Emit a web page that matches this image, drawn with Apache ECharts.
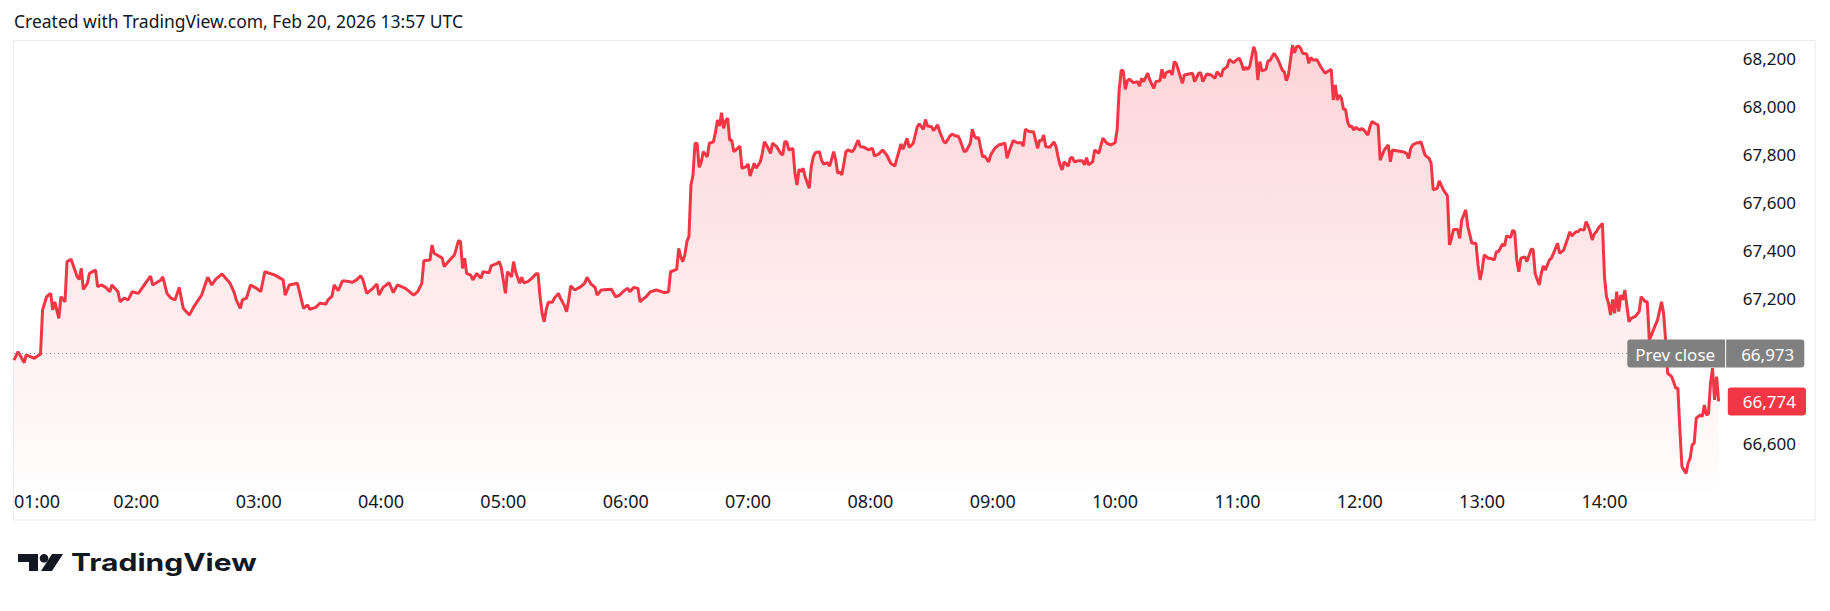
<!DOCTYPE html>
<html>
<head>
<meta charset="utf-8">
<script src="https://cdn.jsdelivr.net/npm/echarts/dist/echarts.min.js"></script>
<style>
  html, body { margin: 0; padding: 0; background: #ffffff; }
  #chart { width: 1830px; height: 611px; }
</style>
</head>
<body>
<div id="chart"></div>
<script>
// ---- data ----
const headerText = 'Created with TradingView.com, Feb 20, 2026 13:57 UTC';
const brandText = 'TradingView';
const prevCloseLabel = 'Prev close';
const prevClose = 66973;

const times = [
  "01:00","01:02","01:05","01:06","01:10","01:13","01:14","01:16","01:18","01:19","01:20","01:22","01:23","01:25","01:26","01:28","01:31","01:32","01:33","01:34","01:36","01:37","01:40","01:41","01:43","01:45","01:47","01:48","01:51","01:52","01:54","01:56","01:58",
  "02:01","02:05","02:07","02:08","02:12","02:13","02:15","02:17","02:19","02:21","02:23","02:26","02:28","02:32","02:35","02:37","02:39","02:42","02:46","02:48","02:49","02:51","02:52","02:54","02:56","02:59",
  "03:01","03:03","03:08","03:12","03:13","03:15","03:19","03:22","03:24","03:25","03:28","03:30","03:33","03:34","03:36","03:37","03:39","03:41","03:43","03:46","03:48","03:50","03:51","03:53","03:56","03:58","03:59",
  "04:01","04:04","04:06","04:08","04:12","04:16","04:18","04:20","04:21","04:24","04:25","04:26","04:29","04:30","04:31","04:33","04:36","04:38","04:39","04:40","04:41","04:42","04:44","04:45","04:47","04:49","04:50","04:53","04:54","04:57","04:58","04:59",
  "05:01","05:02","05:04","05:05","05:06","05:08","05:09","05:10","05:12","05:14","05:16","05:17","05:18","05:19","05:20","05:21","05:22","05:24","05:25","05:27","05:28","05:30","05:31","05:32","05:33","05:35","05:38","05:40","05:41","05:43","05:45","05:46","05:48","05:53","05:55","05:57","05:59",
  "06:01","06:02","06:04","06:06","06:07","06:09","06:10","06:12","06:15","06:19","06:21","06:22","06:25","06:26","06:27","06:28","06:29","06:30","06:31","06:32","06:33","06:34","06:35","06:36","06:37","06:38","06:40","06:41","06:43","06:44","06:45","06:46","06:47","06:48","06:49","06:50","06:51","06:52","06:53","06:54","06:56","06:57","06:59",
  "07:00","07:01","07:03","07:04","07:06","07:07","07:08","07:09","07:11","07:12","07:14","07:16","07:17","07:18","07:19","07:20","07:22","07:23","07:24","07:25","07:26","07:27","07:28","07:30","07:31","07:32","07:33","07:35","07:36","07:37","07:39","07:40","07:42","07:43","07:44","07:45","07:46","07:48","07:49","07:51","07:52","07:54","07:55","07:57","07:59",
  "08:01","08:02","08:04","08:06","08:08","08:10","08:12","08:13","08:15","08:16","08:18","08:19","08:21","08:23","08:24","08:26","08:27","08:28","08:30","08:31","08:33","08:34","08:36","08:37","08:39","08:40","08:42","08:43","08:44","08:46","08:47","08:49","08:50","08:51","08:52","08:53","08:55","08:56","08:58","08:59",
  "09:01","09:03","09:06","09:07","09:08","09:10","09:12","09:14","09:15","09:16","09:18","09:20","09:21","09:22","09:23","09:24","09:25","09:26","09:28","09:30","09:31","09:32","09:33","09:34","09:35","09:37","09:38","09:39","09:40","09:42","09:44","09:45","09:46","09:47","09:49","09:50","09:52","09:54","09:56","09:58",
  "10:00","10:01","10:02","10:03","10:04","10:05","10:06","10:07","10:09","10:11","10:12","10:13","10:14","10:16","10:17","10:19","10:20","10:22","10:23","10:24","10:25","10:27","10:28","10:29","10:30","10:32","10:33","10:34","10:36","10:38","10:39","10:41","10:42","10:43","10:45","10:47","10:49","10:50","10:52","10:53","10:55","10:56","10:58",
  "11:00","11:01","11:02","11:03","11:04","11:05","11:06","11:08","11:09","11:10","11:11","11:12","11:14","11:15","11:16","11:17","11:18","11:20","11:22","11:23","11:24","11:25","11:27","11:28","11:29","11:30","11:31","11:32","11:34","11:35","11:36","11:37","11:39","11:40","11:41","11:43","11:44","11:46","11:47","11:48","11:49","11:50","11:51","11:52","11:53","11:54","11:55","11:56","11:57","11:58",
  "12:00","12:01","12:02","12:04","12:05","12:06","12:08","12:09","12:10","12:12","12:14","12:15","12:16","12:18","12:21","12:23","12:24","12:25","12:26","12:28","12:29","12:30","12:32","12:34","12:35","12:36","12:38","12:39","12:41","12:43","12:44","12:45","12:46","12:48","12:49","12:50","12:52","12:53","12:54","12:55","12:57","12:58","12:59",
  "13:00","13:01","13:03","13:04","13:06","13:07","13:08","13:10","13:11","13:12","13:14","13:15","13:16","13:17","13:18","13:19","13:21","13:22","13:24","13:25","13:26","13:28","13:29","13:30","13:31","13:33","13:34","13:36","13:37","13:38","13:40","13:42","13:43","13:44","13:46","13:47","13:48","13:50","13:51","13:52","13:53","13:54","13:55","13:56","13:57","13:59",
  "14:00","14:01","14:02","14:03","14:04","14:05","14:06","14:07","14:08","14:09","14:10","14:12","14:13","14:15","14:17","14:18","14:20","14:21","14:22","14:25","14:26","14:28","14:29","14:30","14:31","14:33","14:35","14:36","14:37","14:38","14:40","14:41","14:42","14:43","14:44","14:45","14:47","14:48","14:49","14:50","14:51","14:52","14:53","14:54","14:55","14:56"
];

const prices = [
  66946,66981,66935,66967,66953,66971,67154,67209,67223,67154,67188,67119,67209,67188,67355,67365,67292,67281,67327,67240,67265,67306,67320,67251,67258,67248,67230,67258,67230,67188,67203,67196,67230,
  67223,67272,67295,67258,67279,67292,67223,67203,67196,67248,67161,67133,67165,67216,67290,67258,67282,67304,67265,67226,67196,67161,67196,67203,67258,67244,
  67230,67313,67299,67279,67216,67258,67265,67161,67175,67157,67165,67182,67179,67196,67212,67258,67234,67274,67274,67269,67279,67296,67282,67223,67244,67262,67216,
  67248,67267,67226,67258,67244,67216,67230,67265,67359,67362,67424,67390,67375,67369,67334,67355,67383,67442,67438,67327,67369,67306,67299,67279,67306,67286,67313,67309,67337,67348,67355,67330,
  67223,67313,67292,67355,67313,67265,67290,67267,67272,67286,67304,67306,67209,67140,67105,67154,67186,67186,67203,67223,67203,67171,67147,67193,67254,67237,67251,67267,67290,67262,67248,67216,67237,67240,67209,67216,67233,
  67244,67230,67248,67244,67188,67203,67209,67229,67237,67226,67230,67313,67323,67410,67375,67355,67383,67438,67459,67673,67715,67847,67846,67747,67766,67812,67791,67847,67853,67891,67944,67919,67974,67909,67941,67951,67860,67860,67812,67819,67835,67743,67750,
  67761,67711,67764,67743,67770,67805,67853,67840,67805,67847,67833,67805,67798,67853,67853,67819,67826,67722,67673,67739,67729,67743,67708,67660,67750,67791,67808,67812,67777,67761,67766,67752,67812,67777,67722,67729,67715,67812,67819,67812,67822,67860,67833,67830,67820,
  67826,67794,67802,67819,67798,67764,67752,67784,67844,67822,67868,67830,67847,67916,67927,67905,67946,67919,67916,67899,67923,67895,67853,67849,67877,67885,67877,67877,67860,67812,67815,67847,67905,67877,67867,67872,67791,67794,67770,67798,
  67826,67840,67847,67784,67812,67858,67849,67849,67835,67905,67895,67895,67860,67826,67860,67858,67881,67833,67830,67853,67835,67791,67757,67736,67770,67752,67784,67789,67770,67774,67774,67757,67787,67757,67770,67819,67805,67868,67847,67840,
  67849,67902,68068,68151,68148,68071,68107,68113,68099,68103,68085,68117,68103,68138,68110,68075,68103,68107,68154,68117,68140,68148,68131,68186,68179,68124,68096,68131,68135,68138,68103,68138,68140,68103,68135,68131,68117,68144,68124,68154,68165,68196,68182,
  68196,68200,68179,68151,68163,68154,68165,68248,68221,68110,68186,68148,68154,68190,68191,68207,68221,68193,68151,68144,68107,68131,68255,68223,68248,68251,68242,68221,68218,68179,68204,68193,68194,68179,68163,68138,68144,68154,68027,68089,68027,68047,68034,67988,67988,67937,67916,67919,67902,67913,
  67902,67909,67902,67881,67916,67937,67927,67923,67777,67819,67840,67770,67819,67816,67812,67805,67784,67826,67840,67849,67849,67853,67798,67784,67764,67653,67660,67691,67653,67628,67424,67452,67489,67489,67452,67528,67570,67500,67466,67431,67431,67341,67279,
  67320,67383,67369,67369,67362,67396,67396,67428,67420,67462,67456,67486,67479,67362,67313,67369,67375,67355,67406,67406,67306,67258,67306,67337,67320,67362,67369,67410,67431,67390,67403,67452,67479,67462,67479,67479,67489,67486,67521,67503,67479,67445,67470,67479,67494,67514,
  67292,67209,67182,67133,67198,67140,67230,67147,67216,67196,67237,67105,67119,67126,67147,67209,67188,67188,67029,67092,67112,67188,67140,67029,66891,66877,66829,66829,66655,66503,66475,66517,66538,66593,66600,66704,66718,66711,66759,66718,66722,66849,66912,66780,66877,66774
];

// axis ticks
const xStartHour = 1;   // 01:00
const xEndHour = 15;    // 15:00
const yMin = 66400;
const yMax = 68272;
const yStep = 200;

// ---- helpers ----
const toMin = t => { const p = t.split(':'); return (+p[0]) * 60 + (+p[1]); };
const fmtNum = v => Math.round(v).toLocaleString('en-US');
const pad2 = n => (n < 10 ? '0' : '') + n;

const seriesData = times.map((t, i) => [toMin(t), prices[i]]);
const lastPrice = prices[prices.length - 1];

const RED = '#F23645';
const TXT = '#131722';
const FONT = '"Noto Sans", "Open Sans", sans-serif';

const chart = echarts.init(document.getElementById('chart'), null, { renderer: 'svg', width: 1830, height: 611 });

const tagRich = (bg, radius, pad) => ({
  backgroundColor: bg, color: '#ffffff', fontSize: 17, fontFamily: FONT,
  lineHeight: 17, padding: pad, borderRadius: radius
});

chart.setOption({
  animation: false,
  backgroundColor: '#ffffff',
  textStyle: { fontFamily: FONT },
  grid: { left: 14, right: 103.2, top: 41, bottom: 119.6, containLabel: false },
  xAxis: {
    type: 'value',
    min: xStartHour * 60,
    max: xEndHour * 60,
    interval: 60,
    axisLine: { show: false },
    axisTick: { show: false },
    splitLine: { show: false },
    axisLabel: {
      color: TXT,
      fontSize: 18,
      fontFamily: FONT,
      margin: 1,
      showMaxLabel: false,
      alignMinLabel: 'left',
      formatter: v => pad2(Math.round(v / 60)) + ':00'
    }
  },
  yAxis: {
    type: 'value',
    position: 'right',
    min: yMin,
    max: yMax,
    interval: yStep,
    axisLine: { show: false },
    axisTick: { show: false },
    splitLine: { show: false },
    axisLabel: {
      color: TXT,
      fontSize: 17,
      fontFamily: FONT,
      margin: 16,
      align: 'left',
      formatter: v => (v % yStep === 0 && v > yMin) ? fmtNum(v) : ''
    }
  },
  series: [{
    type: 'line',
    data: seriesData,
    showSymbol: false,
    symbol: 'none',
    smooth: false,
    lineStyle: { color: RED, width: 3 },
    itemStyle: { color: RED },
    areaStyle: {
      color: new echarts.graphic.LinearGradient(0, 0, 0, 1, [
        { offset: 0, color: 'rgba(242,54,69,0.30)' },
        { offset: 1, color: 'rgba(242,54,69,0.01)' }
      ])
    },
    markLine: {
      silent: true,
      symbol: 'none',
      animation: false,
      data: [
        {
          yAxis: prevClose,
          lineStyle: { type: [1, 3], color: '#8a8d96', width: 1 },
          label: {
            show: true,
            position: 'end',
            distance: 0,
            offset: [-99.5, 0],
            formatter: '{p|' + prevCloseLabel + '}{g| }{v|' + fmtNum(prevClose) + '}',
            rich: {
              p: tagRich('#808080', [3, 0, 0, 3], [6, 10, 5, 8]),
              g: { width: 1, fontSize: 1, lineHeight: 17 },
              v: tagRich('#808080', [0, 3, 3, 0], [6, 10, 5, 15])
            }
          }
        },
        {
          yAxis: lastPrice,
          lineStyle: { width: 0, color: 'rgba(0,0,0,0)' },
          label: {
            show: true,
            position: 'end',
            distance: 1,
            formatter: '{v|' + fmtNum(lastPrice) + '}',
            rich: {
              v: tagRich(RED, 3, [6, 10, 5, 15])
            }
          }
        }
      ]
    }
  }],
  graphic: [
    {
      type: 'rect', silent: true, z: -10,
      shape: { x: 13.5, y: 40.5, width: 1801.5, height: 479.5 },
      style: { fill: 'none', stroke: '#ebebeb', lineWidth: 1 }
    },
    {
      type: 'text', left: 14, top: 12, silent: true,
      style: { text: headerText, fill: TXT, font: '17.5px ' + FONT }
    },
    {
      type: 'group', silent: true,
      children: [
        { type: 'polygon', shape: { points: [[18, 554], [38, 554], [38, 571], [29, 571], [29, 562], [18, 562]] }, style: { fill: TXT } },
        { type: 'circle', shape: { cx: 44, cy: 558.3, r: 4.3 }, style: { fill: TXT } },
        { type: 'polygon', shape: { points: [[52, 554], [63, 554], [52, 571], [41, 571]] }, style: { fill: TXT } }
      ]
    },
    {
      type: 'text', silent: true,
      x: 71, y: 563, scaleX: 1.25, scaleY: 1,
      style: { text: brandText, x: 0, y: 0, verticalAlign: 'middle', fill: TXT, font: 'bold 24px Inter, "Noto Sans", sans-serif' }
    }
  ]
});
</script>
</body>
</html>
